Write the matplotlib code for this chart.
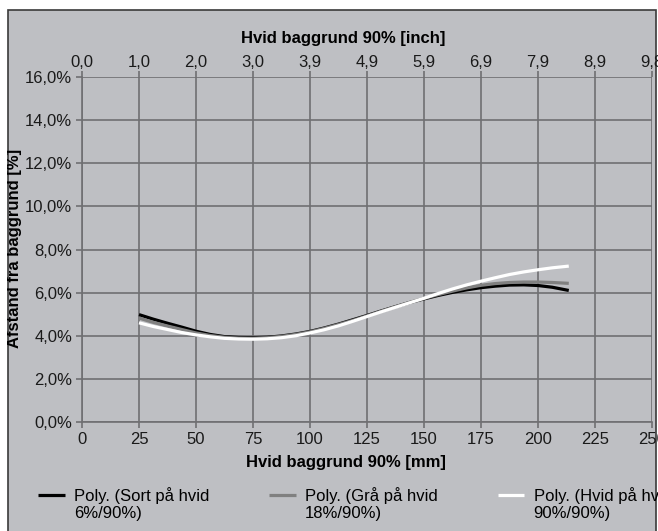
import numpy as np
import matplotlib
matplotlib.use("Agg")
import matplotlib.pyplot as plt
from matplotlib.patches import Rectangle

plt.rcParams['font.family'] = ['Liberation Sans', 'DejaVu Sans']

# distance from background (mm) and the three polynomial trend lines (%)
dist_mm = [25, 31.25, 37.5, 43.75, 50, 56.25, 62.5, 68.75, 75, 81.25, 87.5, 93.75, 100, 106.25,
           112.5, 118.75, 125, 131.25, 137.5, 143.75, 150, 156.25, 162.5, 168.75, 175, 181.25,
           187.5, 193.75, 200, 206.25, 213.5]
sort_hvid = [4.98, 4.77, 4.58, 4.40, 4.21, 4.06, 3.96, 3.92, 3.91, 3.93, 3.99, 4.08, 4.20, 4.36,
             4.54, 4.74, 4.94, 5.15, 5.35, 5.54, 5.71, 5.87, 6.01, 6.13, 6.23, 6.30, 6.35, 6.36,
             6.33, 6.25, 6.10]
graa_hvid = [4.82, 4.62, 4.45, 4.29, 4.13, 4.01, 3.93, 3.89, 3.88, 3.91, 3.97, 4.06, 4.18, 4.34,
             4.52, 4.71, 4.92, 5.14, 5.35, 5.55, 5.73, 5.91, 6.07, 6.22, 6.34, 6.42, 6.47, 6.49,
             6.49, 6.47, 6.43]
hvid_hvid = [4.60, 4.43, 4.29, 4.15, 4.04, 3.95, 3.88, 3.85, 3.84, 3.86, 3.91, 4.00, 4.13, 4.28,
             4.46, 4.67, 4.89, 5.11, 5.32, 5.53, 5.74, 5.96, 6.17, 6.36, 6.53, 6.69, 6.84, 6.96,
             7.06, 7.15, 7.23]

series_labels = ["Poly. (Sort på hvid\n6%/90%)", "Poly. (Grå på hvid\n18%/90%)", "Poly. (Hvid på hvid\n90%/90%)"]
series_colors = ["#000000", "#808080", "#ffffff"]

mm_ticks = [0, 25, 50, 75, 100, 125, 150, 175, 200, 225, 250]
inch_labels = ["0,0", "1,0", "2,0", "3,0", "3,9", "4,9", "5,9", "6,9", "7,9", "8,9", "9,8"]
pct_ticks = [0, 2, 4, 6, 8, 10, 12, 14, 16]
pct_labels = ["0,0%", "2,0%", "4,0%", "6,0%", "8,0%", "10,0%", "12,0%", "14,0%", "16,0%"]

bg = "#bebfc3"
grid_c = "#6f6f72"
W, H = 658, 531
fs = 12

fig = plt.figure(figsize=(W / 100, H / 100), dpi=100, facecolor="white")
fig.patches.append(Rectangle((8 / W, -0.1), 648 / W, 1.1 - 10 / H, transform=fig.transFigure,
                             facecolor=bg, edgecolor="#3a3a3a", linewidth=1.2, zorder=-2))

ax = fig.add_axes([82 / W, 1 - 422 / H, 570 / W, 345 / H])
ax.set_facecolor(bg)

for ys, col, lab in zip([sort_hvid, graa_hvid, hvid_hvid], series_colors, series_labels):
    ax.plot(dist_mm, ys, color=col, lw=2.3, label=lab, solid_capstyle="butt",
            solid_joinstyle="round", zorder=3)

ax.set_xlim(0, 250)
ax.set_ylim(0, 16)
ax.set_xticks(mm_ticks)
ax.set_xticklabels([str(t) for t in mm_ticks])
ax.set_yticks(pct_ticks)
ax.set_yticklabels(pct_labels)
ax.grid(True, color=grid_c, lw=1.2)
ax.set_axisbelow(True)
for s in ["top", "right"]:
    ax.spines[s].set_visible(False)
for s in ["left", "bottom"]:
    ax.spines[s].set_color(grid_c)
    ax.spines[s].set_linewidth(1.2)
ax.tick_params(axis="both", colors=grid_c, labelcolor="#1a1a1a", labelsize=fs, length=4, width=1.2, pad=3)

ax2 = ax.twiny()
ax2.set_xlim(ax.get_xlim())
ax2.set_xticks(mm_ticks)
ax2.set_xticklabels(inch_labels)
for s in ax2.spines.values():
    s.set_visible(False)
ax2.tick_params(axis="x", colors=grid_c, labelcolor="#1a1a1a", labelsize=fs, length=4, width=1.2, pad=1)

fig.text(343 / W, 1 - 38 / H, "Hvid baggrund 90% [inch]", ha="center", va="center", fontsize=fs, fontweight="bold")
fig.text(346 / W, 1 - 463 / H, "Hvid baggrund 90% [mm]", ha="center", va="center", fontsize=fs, fontweight="bold")
fig.text(15 / W, 1 - 248 / H, "Afstand fra baggrund [%]", ha="center", va="center", rotation=90,
         fontsize=fs, fontweight="bold")
fig.patches.append(Rectangle((0, 0), 7.4 / W, 1, transform=fig.transFigure, facecolor="white",
                             edgecolor="none", zorder=5))

leg = fig.legend(loc="upper left", bbox_to_anchor=(38 / W, 1 - 487 / H), ncol=3, frameon=False,
                 fontsize=fs, handlelength=1.6, handletextpad=0.55, columnspacing=3.6,
                 labelspacing=0.2, borderpad=0, borderaxespad=0)
for h in leg.legend_handles:
    h.set_linewidth(2.3)
    yd = h.get_ydata()
    h.set_ydata([v + 7 for v in yd])

fig.savefig("out.png", dpi=100, facecolor="white")
